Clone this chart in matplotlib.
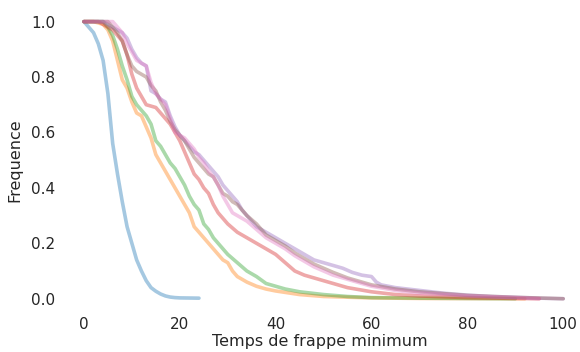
import numpy as np
import matplotlib
matplotlib.use("Agg")
import matplotlib.pyplot as plt
import seaborn as sns

# valeurs (temps minimum -> frequence)
x_blue = [0, 1, 2, 3, 4, 5, 6, 7, 8, 9, 10, 11, 12, 13, 14, 15, 16, 17, 18, 19, 20, 24]
y_blue = [1.0, 0.98, 0.96, 0.92, 0.86, 0.74, 0.56, 0.45, 0.35, 0.26, 0.20, 0.14, 0.10,
          0.065, 0.04, 0.027, 0.017, 0.01, 0.006, 0.004, 0.003, 0.002]

x_orange = [0, 2, 4, 5, 6, 7, 8, 9, 10, 11, 12, 13, 14, 15, 16, 17, 18, 19, 20, 21, 22,
            23, 24, 25, 26, 27, 28, 29, 30, 31, 32, 34, 36, 38, 40, 45, 50, 60, 70, 92]
y_orange = [1.0, 1.0, 0.99, 0.97, 0.93, 0.86, 0.79, 0.76, 0.71, 0.67, 0.66, 0.62, 0.58,
            0.52, 0.49, 0.46, 0.43, 0.40, 0.37, 0.34, 0.31, 0.26, 0.24, 0.22, 0.20, 0.18,
            0.16, 0.14, 0.13, 0.10, 0.08, 0.06, 0.045, 0.035, 0.028, 0.015, 0.008, 0.003,
            0.001, 0.0]

x_green = [0, 2, 4, 5, 6, 7, 8, 9, 10, 11, 12, 13, 14, 15, 16, 17, 18, 19, 20, 21, 22,
           23, 24, 25, 26, 27, 28, 29, 30, 32, 34, 36, 38, 40, 42, 45, 50, 55, 60, 70, 90]
y_green = [1.0, 1.0, 1.0, 0.98, 0.95, 0.90, 0.84, 0.79, 0.73, 0.70, 0.68, 0.66, 0.63,
           0.57, 0.55, 0.52, 0.49, 0.47, 0.44, 0.41, 0.37, 0.34, 0.32, 0.27, 0.25, 0.22,
           0.20, 0.18, 0.16, 0.13, 0.10, 0.08, 0.055, 0.045, 0.035, 0.025, 0.015, 0.008,
           0.004, 0.002, 0.0]

x_red = [0, 3, 4, 5, 6, 7, 8, 9, 10, 11, 12, 13, 14, 15, 16, 17, 18, 19, 20, 21, 22, 23,
         24, 25, 26, 27, 28, 29, 30, 32, 34, 36, 38, 40, 42, 44, 46, 48, 50, 52, 55, 60,
         65, 70, 80, 90, 95]
y_red = [1.0, 1.0, 0.99, 0.98, 0.97, 0.95, 0.93, 0.88, 0.81, 0.76, 0.73, 0.70, 0.695,
         0.69, 0.67, 0.65, 0.63, 0.60, 0.57, 0.53, 0.49, 0.45, 0.43, 0.40, 0.38, 0.34,
         0.31, 0.29, 0.27, 0.24, 0.22, 0.20, 0.18, 0.16, 0.13, 0.10, 0.085, 0.075, 0.065,
         0.055, 0.04, 0.025, 0.015, 0.01, 0.004, 0.001, 0.0]

x_purple = [0, 4, 5, 6, 7, 8, 9, 10, 11, 12, 13, 14, 15, 16, 17, 18, 19, 20, 21, 22, 23,
            24, 25, 26, 27, 28, 29, 30, 31, 32, 33, 34, 35, 36, 38, 40, 42, 44, 46, 48,
            50, 52, 54, 56, 58, 60, 61, 62, 65, 70, 75, 80, 85, 90, 95, 100]
y_purple = [1.0, 1.0, 0.99, 0.98, 0.97, 0.96, 0.94, 0.90, 0.87, 0.85, 0.84, 0.75, 0.74,
            0.72, 0.71, 0.66, 0.62, 0.59, 0.57, 0.55, 0.53, 0.52, 0.50, 0.48, 0.46, 0.44,
            0.41, 0.39, 0.37, 0.35, 0.32, 0.30, 0.28, 0.26, 0.24, 0.22, 0.20, 0.18, 0.16,
            0.14, 0.13, 0.12, 0.11, 0.095, 0.085, 0.08, 0.06, 0.05, 0.04, 0.03, 0.02,
            0.013, 0.008, 0.005, 0.002, 0.0]

x_brown = [0, 5, 6, 7, 8, 9, 10, 11, 12, 13, 14, 15, 16, 17, 18, 19, 20, 21, 22, 23, 24,
           25, 26, 27, 28, 29, 30, 31, 32, 33, 34, 36, 38, 40, 42, 44, 46, 48, 50, 52,
           55, 60, 65, 70, 80, 90, 100]
y_brown = [1.0, 1.0, 0.98, 0.96, 0.93, 0.88, 0.84, 0.82, 0.81, 0.80, 0.77, 0.75, 0.71,
           0.68, 0.64, 0.61, 0.59, 0.57, 0.54, 0.51, 0.49, 0.47, 0.45, 0.44, 0.41, 0.38,
           0.37, 0.35, 0.34, 0.32, 0.30, 0.27, 0.23, 0.21, 0.19, 0.165, 0.145, 0.125,
           0.11, 0.095, 0.075, 0.05, 0.035, 0.025, 0.012, 0.005, 0.0]

x_pink = [0, 6, 7, 8, 9, 10, 11, 12, 13, 14, 15, 16, 17, 18, 19, 20, 21, 22, 23, 24, 25,
          26, 27, 28, 29, 30, 31, 32, 34, 36, 38, 40, 42, 44, 46, 48, 50, 52, 55, 60, 65,
          70, 80, 90, 95]
y_pink = [1.0, 1.0, 0.98, 0.96, 0.92, 0.89, 0.86, 0.85, 0.84, 0.78, 0.74, 0.72, 0.70,
          0.65, 0.60, 0.59, 0.58, 0.56, 0.54, 0.51, 0.49, 0.46, 0.44, 0.41, 0.37, 0.34,
          0.31, 0.30, 0.28, 0.25, 0.22, 0.20, 0.18, 0.155, 0.135, 0.115, 0.10, 0.085,
          0.07, 0.045, 0.03, 0.02, 0.01, 0.004, 0.0]

series = [
    (x_blue, y_blue),
    (x_orange, y_orange),
    (x_green, y_green),
    (x_red, y_red),
    (x_purple, y_purple),
    (x_brown, y_brown),
    (x_pink, y_pink),
]

sns.set_style("white")
plt.rcParams["font.family"] = ["DejaVu Sans"]

fig = plt.figure(figsize=(5.8, 3.52), dpi=100)
ax = fig.add_axes([0.1034, 0.112, 0.8966, 0.866])

colors = sns.color_palette("tab10")
for i, (xs, ys) in enumerate(series):
    ax.plot(xs, ys, color=colors[i], alpha=0.4, lw=2.6)

ax.set_xlim(-5, 103.5)
ax.set_ylim(-0.05, 1.05)
ax.set_xticks([0, 20, 40, 60, 80, 100])
ax.set_yticks([0.0, 0.2, 0.4, 0.6, 0.8, 1.0])
ax.tick_params(labelsize=11, colors="0.15", length=0, pad=3.5)
ax.set_xlabel("Temps de frappe minimum", fontsize=11.5, color="0.15", labelpad=1)
ax.set_ylabel("Frequence", fontsize=11.5, color="0.15", labelpad=6)
sns.despine(left=True, bottom=True)

fig.savefig("out.png", dpi=100)
